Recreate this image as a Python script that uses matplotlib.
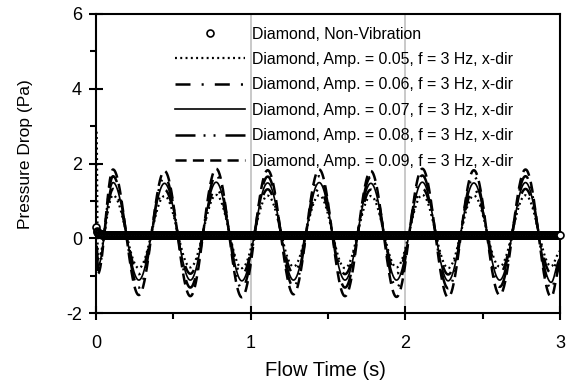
import numpy as np
import matplotlib.pyplot as plt

plt.rcParams['font.family'] = ['Liberation Sans', 'DejaVu Sans']
plt.rcParams['lines.scale_dashes'] = False
plt.rcParams['axes.unicode_minus'] = False

# extrema of the oscillating pressure drop (s, Pa)
peak_t = [0.11, 0.443, 0.777, 1.11, 1.443, 1.777, 2.11, 2.443, 2.777]
trough_t = [0.277, 0.61, 0.943, 1.277, 1.61, 1.943, 2.277, 2.61, 2.943]

labels = ['Diamond, Amp. = 0.05, f = 3 Hz, x-dir',
          'Diamond, Amp. = 0.06, f = 3 Hz, x-dir',
          'Diamond, Amp. = 0.07, f = 3 Hz, x-dir',
          'Diamond, Amp. = 0.08, f = 3 Hz, x-dir',
          'Diamond, Amp. = 0.09, f = 3 Hz, x-dir']

start_dp = [2.85, -0.2, -0.3, -0.4, -0.5]      # t = 0.004
early_dp = [-0.55, -0.65, -0.75, -0.85, -0.95]  # t = 0.012
end_dp = [-0.35, -0.45, -0.55, -0.65, -0.75]    # t = 3

peaks = [
    [1.15, 1.13, 1.16, 1.14, 1.15, 1.13, 1.16, 1.14, 1.15],
    [1.32, 1.30, 1.33, 1.31, 1.32, 1.30, 1.33, 1.31, 1.32],
    [1.49, 1.47, 1.50, 1.48, 1.49, 1.47, 1.50, 1.48, 1.49],
    [1.66, 1.64, 1.68, 1.65, 1.66, 1.64, 1.68, 1.65, 1.66],
    [1.84, 1.80, 1.86, 1.82, 1.84, 1.80, 1.86, 1.82, 1.84],
]
troughs = [
    [-0.80, -0.78, -0.80, -0.76, -0.80, -0.78, -0.80, -0.76, -0.75],
    [-0.96, -0.95, -0.97, -0.94, -0.96, -0.95, -0.97, -0.94, -0.94],
    [-1.12, -1.12, -1.14, -1.12, -1.12, -1.12, -1.14, -1.12, -1.18],
    [-1.32, -1.32, -1.34, -1.30, -1.32, -1.32, -1.34, -1.30, -1.35],
    [-1.52, -1.55, -1.58, -1.50, -1.55, -1.57, -1.58, -1.52, -1.57],
]

# non-vibration case
nv_head = [0.3, 0.2, 0.17, 0.15, 0.14, 0.13, 0.12, 0.12, 0.11, 0.11]
nv_level = 0.1

styles = [
    dict(color='black', lw=1.6, dashes=(1.4, 2.4)),
    dict(color='black', lw=1.8, dashes=(10.8, 8.0, 1.5, 8.0)),
    dict(color='black', lw=1.2, ls='-'),
    dict(color='black', lw=1.8, dashes=(14.4, 5.8, 1.4, 5.8, 1.4, 7.2)),
    dict(color='black', lw=1.8, dashes=(8.0, 4.5)),
]


def wave(knot_t, knot_v, step=0.002):
    ts, vs = [], []
    for i in range(len(knot_t) - 1):
        t0, t1 = knot_t[i], knot_t[i + 1]
        v0, v1 = knot_v[i], knot_v[i + 1]
        n = max(int(round((t1 - t0) / step)), 2)
        s = np.linspace(0, 1, n, endpoint=False)
        ts.append(t0 + (t1 - t0) * s)
        vs.append(v0 + (v1 - v0) * (1 - np.cos(np.pi * s)) / 2)
    ts.append([knot_t[-1]])
    vs.append([knot_v[-1]])
    return np.concatenate(ts), np.concatenate(vs)


fig = plt.figure(figsize=(5.71, 3.87), dpi=100)
ax = fig.add_axes([96 / 571, 1 - 313 / 387, 464 / 571, 299 / 387])

nv_t = np.arange(0, 3.0001, 0.004)
nv_dp = np.full(len(nv_t), nv_level)
nv_dp[:len(nv_head)] = nv_head
ax.plot(nv_t, nv_dp, ls='none', marker='o', ms=5, mfc='white', mec='black',
        mew=1.2, label='Diamond, Non-Vibration', zorder=5, clip_on=False)

for k in range(5):
    kt = [0.004, 0.012]
    kv = [start_dp[k], early_dp[k]]
    for j in range(len(peak_t)):
        kt += [peak_t[j], trough_t[j]]
        kv += [peaks[k][j], troughs[k][j]]
    kt.append(3.0)
    kv.append(end_dp[k])
    t, dp = wave(kt, kv)
    ax.plot(t, dp, label=labels[k], zorder=3, **styles[k])

ax.set_xlim(0, 3)
ax.set_ylim(-2, 6)
ax.set_xticks([0, 1, 2, 3])
ax.set_xticks([0.5, 1.5, 2.5], minor=True)
ax.set_yticks([-2, 0, 2, 4, 6])
ax.set_yticks([-1, 1, 3, 5], minor=True)
ax.xaxis.grid(True, which='major', color='#c0c0c0', lw=1.2)
ax.set_axisbelow(True)

for sp in ax.spines.values():
    sp.set_linewidth(1.5)
ax.tick_params(which='major', direction='inout', length=10, width=1.5, labelsize=13)
ax.tick_params(which='minor', direction='out', length=4, width=1.5)
ax.tick_params(axis='x', which='major', pad=11)
ax.tick_params(axis='y', which='major', pad=5)

ax.set_xlabel('Flow Time (s)', fontsize=14.5)
ax.set_ylabel('Pressure Drop (Pa)', fontsize=12.5)
ax.xaxis.set_label_coords(0.495, -0.162)
ax.yaxis.set_label_coords(-0.135, 0.53)

ax.legend(loc='upper left', bbox_to_anchor=(0.17, 0.958), frameon=False,
          fontsize=11.4, handlelength=4.42, handletextpad=0.46, labelspacing=0.66,
          borderpad=0, borderaxespad=0, numpoints=1)

fig.savefig('out.png', dpi=100)
